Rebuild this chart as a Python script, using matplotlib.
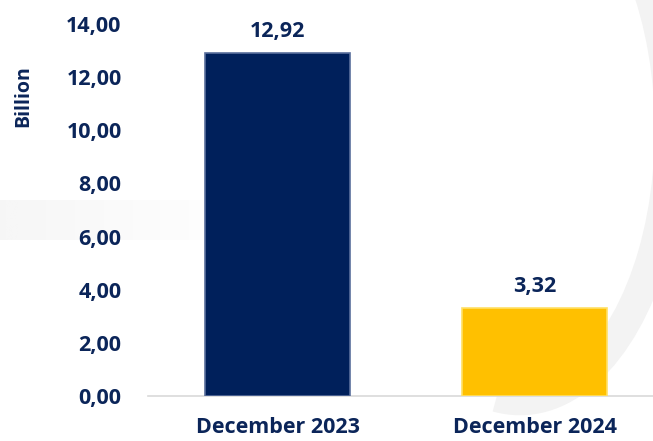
import matplotlib.pyplot as plt
import numpy as np
from matplotlib.patches import Arc

# data
categories = ['December 2023', 'December 2024']
values = [12.92, 3.32]
value_labels = ['12,92', '3,32']
yticks = [0, 2, 4, 6, 8, 10, 12, 14]

navy = '#0b2559'
bar_colors = ['#00205b', '#ffc000']
edge_colors = ['#5a6f9c', '#ffe066']

plt.rcParams['font.family'] = ['Open Sans', 'DejaVu Sans']

fig = plt.figure(figsize=(6.53, 4.41), dpi=100)
ax = fig.add_axes([148 / 653, 45 / 441, 515 / 653, 372 / 441])

# faint watermark shapes in the background
bg = fig.add_axes([0, 0, 1, 1], zorder=-1)
bg.set_xlim(0, 653)
bg.set_ylim(441, 0)
bg.axis('off')
fade = np.clip(1 - np.linspace(0, 1, 200), 0, 1)[None, :]
bg.imshow(fade, extent=[0, 260, 240, 200], cmap='Greys', vmin=0, vmax=14, aspect='auto')
bg.add_patch(Arc((520, 130), 300, 540, theta1=-60, theta2=95, color='#f3f3f3', lw=22))
bg.add_patch(Arc((380, 560), 420, 420, theta1=95, theta2=170, color='#f5f5f5', lw=26))
bg.set_xlim(0, 653)
bg.set_ylim(441, 0)

x = range(len(categories))
ax.bar(x, values, width=0.565, color=bar_colors, edgecolor=edge_colors, linewidth=1.2, zorder=3)

for xi, v, lab in zip(x, values, value_labels):
    ax.annotate(lab, (xi, v), xytext=(0, 8), textcoords='offset points',
                ha='center', va='bottom', fontsize=15.5, fontweight='bold', color=navy)

ax.set_xlim(-0.504, 1.5)
ax.set_ylim(0, 14)
ax.set_yticks(yticks)
ax.set_yticklabels([f'{t:.2f}'.replace('.', ',') for t in yticks])
ax.set_xticks(list(x))
ax.set_xticklabels(categories)
ax.tick_params(axis='y', length=0, pad=19, labelsize=15.5, labelcolor=navy)
ax.tick_params(axis='x', length=0, pad=15, labelsize=15.5, labelcolor=navy)
for lab in ax.get_xticklabels() + ax.get_yticklabels():
    lab.set_fontweight('bold')

ax.set_ylabel('Billion', fontsize=14, fontweight='bold', color=navy)
ax.yaxis.set_label_coords(-115 / 515, 0.806)

for side in ['top', 'right', 'left']:
    ax.spines[side].set_visible(False)
ax.spines['bottom'].set_color('#d9d9d9')
ax.spines['bottom'].set_linewidth(1.2)
ax.patch.set_alpha(0)

fig.savefig('out.png', dpi=100)
